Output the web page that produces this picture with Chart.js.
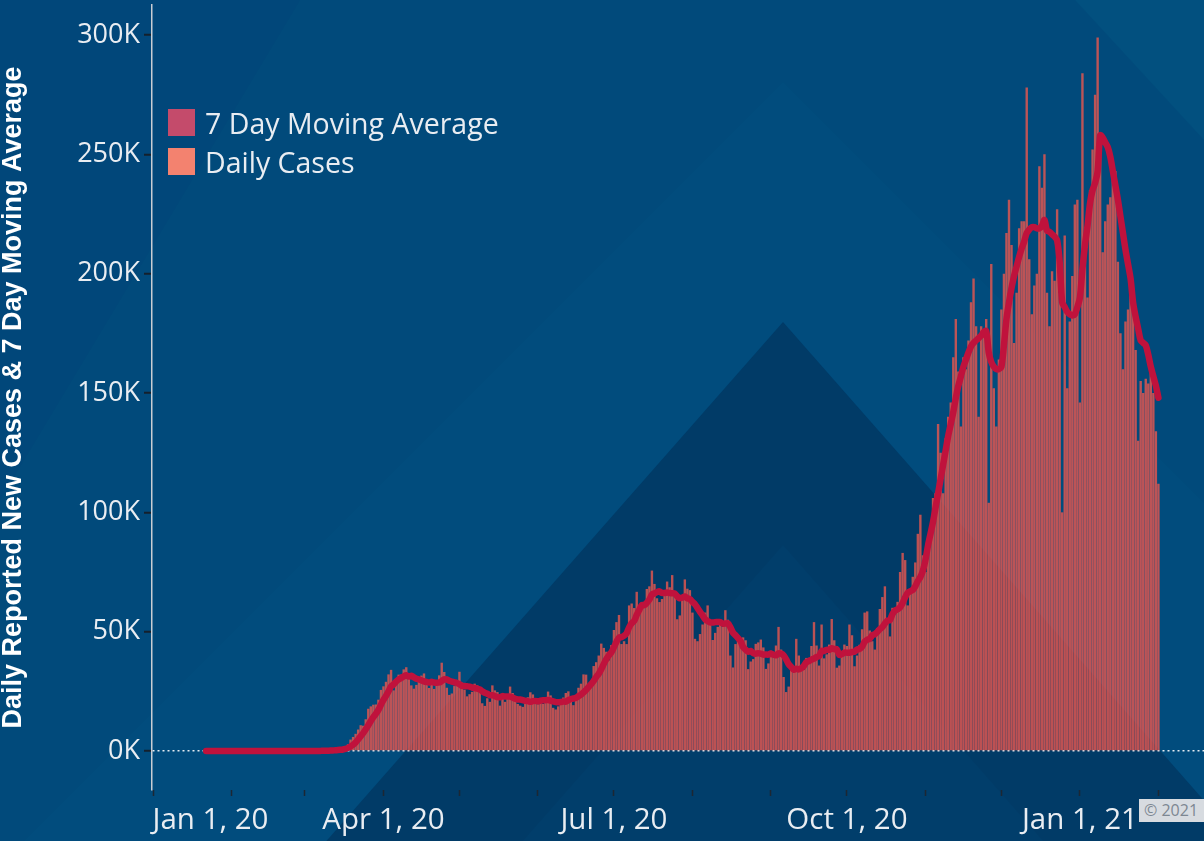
<!DOCTYPE html>
<html>
<head>
<meta charset="utf-8">
<script src="https://cdn.jsdelivr.net/npm/chart.js@4.4.1/dist/chart.umd.min.js"></script>
<style>
  html, body { margin:0; padding:0; width:1204px; height:841px; overflow:hidden; background:#014a7b; }
  #wrap { position:relative; width:1204px; height:841px; }
  canvas { position:absolute; left:0; top:0; }
  .lg { position:absolute; left:168px; height:30px; line-height:30px; display:flex; align-items:center; font-family:'Open Sans',sans-serif; font-size:28.5px; color:#e9edf2; white-space:nowrap; }
  .lg span.sw { display:inline-block; width:27px; height:27px; margin-right:10px; }
  #copy { position:absolute; left:1139px; top:799px; height:23px; padding:0 0 0 5px; background:#d7dbe0; color:#7d8792; font-family:'Open Sans',sans-serif; font-size:16px; line-height:23px; white-space:nowrap; width:80px; }
</style>
</head>
<body>
<div id="wrap">
<canvas id="c" width="1204" height="841"></canvas>
<div id="legend"></div>
<div id="copy">© 2021</div>
</div>
<script>
// ---- Data (thousands of cases), first value = Jan 22, 2020 ----
const startDay = 21; // days after Jan 1, 2020
const daily2020Jan = [0,0,0,0,0,0,0,0,0,0];
const daily2020Feb = [0,0,0,0,0,0,0,0,0,0,0,0,0,0,0,0,0,0,0,0,0,0,0,0,0,0,0,0,0];
const daily2020Mar = [0.01,0.02,0.02,0.03,0.07,0.06,0.1,0.1,0.14,0.3,0.4,0.5,0.6,0.7,0.9,1.2,1.8,2.8,4.8,5.9,7.2,9.0,10.8,10.6,13.3,17.7,18.7,19.4,19.5,21.5,25.6];
const daily2020Apr = [27.1,29.0,32.1,34.0,25.4,29.9,32.0,32.0,34.2,35.1,30.3,27.5,26.1,27.7,30.1,31.6,32.5,28.5,26.4,28.0,26.0,29.3,31.7,37.0,33.1,26.5,23.5,24.1,27.2,29.5];
const daily2020May = [33.2,28.6,25.7,22.9,23.8,24.8,28.2,27.5,25.6,20.0,18.9,22.1,20.6,27.5,25.4,24.7,19.0,22.0,20.6,21.8,27.0,24.3,22.2,19.7,19.0,18.5,19.9,22.5,24.6,23.7,20.3];
const daily2020Jun = [19.6,20.6,19.7,21.0,24.9,23.3,18.1,17.4,18.7,21.6,22.4,24.3,25.0,20.9,19.2,23.5,26.5,28.2,32.1,32.0,27.4,27.7,35.6,37.2,40.0,45.0,43.2,41.6,38.0,44.4];
const daily2020Jul = [50.7,54.0,57.0,44.8,46.0,44.8,61.0,61.8,59.9,66.7,60.0,59.8,60.8,67.9,69.0,75.6,70.0,64.0,62.4,63.7,65.3,71.0,68.6,73.7,65.6,55.2,56.8,64.7,71.9,68.0,67.4];
const daily2020Aug = [58,47,46,49,53,58,61,54,46.5,49.5,52,54.5,52,59,55,40,35,44.8,46.3,44,47.6,46.4,34.3,37.5,38.5,44.9,45.5,46.7,43.4,34.4,36.7];
const daily2020Sep = [42,41,44.2,52,42.5,31,24.7,27,34.2,35.5,47,40,34.5,34,39,39,44,54,44.2,35.8,53,38.8,40.5,44.6,55.3,46.4,34.9,35.8,40.9,44.6];
const daily2020Oct = [44,53,48.5,35.5,40,44.5,51,58,58.5,50.5,46,42.5,51.5,59.5,64.5,69,54.5,48,60,60,62.5,75,83,80,61,66,73,79,91,99,82];
const daily2020Nov = [75,86,93,106,108,137,125,108,131,140,146,165,181,159,136,165,160,172,188,198,178,140,178,176,181,104,204,152,136,164];
const daily2020Dec = [185,200,217,231,212,171,192,219,222,222,278,206,183,195,200,245,236,250,192,178,201,197,227,192,100,216,152,180,199,229,231];
const daily2021Jan = [146,284,210,190,235,252,275,299,255,209,222,229,232,240,243,205,175,160,180,185,193,190,168,130,155,150,156,154,165,150,134];
const daily2021Feb = [112];

const avg2020Jan = [0,0,0,0,0,0,0,0,0,0];
const avg2020Feb = [0,0,0,0,0,0,0,0,0,0,0,0,0,0,0,0,0,0,0,0,0,0,0,0,0,0,0,0,0];
const avg2020Mar = [0.01,0.01,0.02,0.02,0.03,0.04,0.05,0.06,0.08,0.12,0.17,0.23,0.3,0.39,0.5,0.65,0.9,1.3,1.9,2.6,3.6,4.8,6.2,7.5,9.1,10.8,12.6,14.2,15.6,17.2,19.4];
const avg2020Apr = [21.4,23.1,25.0,27.1,27.9,29.1,30.0,30.6,31.3,31.7,31.2,31.5,30.9,30.3,30.0,29.6,29.2,28.9,28.7,29.0,28.7,28.6,28.7,29.3,30.0,30.0,29.4,29.1,28.8,28.5];
const avg2020May = [28.0,27.3,27.2,27.1,27.0,26.6,26.4,26.1,25.8,25.0,24.4,24.0,23.4,23.4,23.0,22.6,22.5,23.0,22.8,22.8,22.8,22.4,21.9,21.6,21.6,21.3,21.0,20.9,20.6,20.9,21.0];
const avg2020Jun = [20.8,21.1,21.3,21.3,21.4,21.1,20.8,20.5,20.4,20.5,20.7,20.7,21.3,21.8,22.0,22.3,23.0,23.6,24.6,25.6,26.8,28.0,29.4,31.0,32.4,34.3,36.5,38.5,40.1,41.4];
const avg2020Jul = [43.5,45.8,47.5,47.7,48.3,49.3,51.8,53.5,54.5,57.0,59.1,61.1,61.1,62.1,63.4,65.6,66.0,66.6,66.9,66.2,66.2,66.4,66.2,66.1,66.0,64.8,64.0,64.3,64.7,64.0,63.6];
const avg2020Aug = [62.5,61.5,59.9,58.3,56.8,55.2,54.5,53.9,53.8,54.0,54.0,54.0,53.4,53.4,53.5,51.8,49.6,48.5,47.3,46.0,43.6,42.5,41.6,41.9,41.0,40.8,41.0,40.8,40.4,40.4,40.4];
const avg2020Sep = [40.9,40.3,40.1,40.9,40.8,40.1,38.4,36.4,35.2,34.1,34.5,34.2,34.7,35.7,37.2,37.7,38.3,38.7,39.4,39.7,41.9,41.9,42.4,42.4,43.1,42.7,42.6,40.3,40.6,41.2];
const avg2020Oct = [41.2,41.2,41.5,41.6,42.5,42.8,43.7,45.8,46.6,47.0,48.5,48.9,49.9,51.1,51.9,53.4,54.6,54.9,57.4,58.8,59.4,60.2,62.0,64.4,66.3,66.9,67.5,69.0,71.2,72.9,75.6];
const avg2020Nov = [80,86,91,96,102,108,114,120,126,132,137,142,148,153,157,161,164,167,169.5,171,172,173,174,175.5,176,167,163,161,160,160];
const avg2020Dec = [161,170,181,188,194,199,203,207,210.5,213.5,217,218.5,219.5,219.5,219,219,220,222.5,218,217.5,216.5,215.5,214,205,188,186,184,183,182.5,183,186];
const avg2021Jan = [190,202,212,220,229.5,235,238,243,258,257,255,253,249,243,237,231,224,217,210,204,198,188,182,177,172,171,170,166,161,157,153];
const avg2021Feb = [148];

const yTickValues = [0, 50, 100, 150, 200, 250, 300];
const monthTickDays = [0, 31, 60, 91, 121, 152, 182, 213, 244, 274, 305, 335, 366, 397];
const monthTickLabels = ['Jan 1, 20','','','Apr 1, 20','','','Jul 1, 20','','','Oct 1, 20','','','Jan 1, 21',''];
const seriesNames = ['7 Day Moving Average', 'Daily Cases'];
const seriesColors = ['#c44b6b', '#f3826f'];

const dailyCases = [].concat(daily2020Jan, daily2020Feb, daily2020Mar, daily2020Apr, daily2020May, daily2020Jun,
  daily2020Jul, daily2020Aug, daily2020Sep, daily2020Oct, daily2020Nov, daily2020Dec, daily2021Jan, daily2021Feb);
const movingAvg = [].concat(avg2020Jan, avg2020Feb, avg2020Mar, avg2020Apr, avg2020May, avg2020Jun,
  avg2020Jul, avg2020Aug, avg2020Sep, avg2020Oct, avg2020Nov, avg2020Dec, avg2021Jan, avg2021Feb);

const toPoints = arr => arr.map((v, i) => ({ x: startDay + i, y: v }));

// legend (HTML text)
const legendEl = document.getElementById('legend');
const legendTops = [107.5, 146.5];
seriesNames.forEach((n, i) => {
  const d = document.createElement('div');
  d.className = 'lg';
  d.style.top = legendTops[i] + 'px';
  d.innerHTML = '<span class="sw" style="background:' + seriesColors[i] + '"></span>';
  d.appendChild(document.createTextNode(n));
  legendEl.appendChild(d);
});

const bgPlugin = {
  id: 'bg',
  beforeDraw(chart) {
    const c = chart.ctx;
    const W = chart.width, H = chart.height;
    c.save();
    c.fillStyle = '#014a7b'; c.fillRect(0, 0, W, H);
    const poly = (pts, col) => {
      c.beginPath(); c.moveTo(pts[0][0], pts[0][1]);
      for (let k = 1; k < pts.length; k++) c.lineTo(pts[k][0], pts[k][1]);
      c.closePath(); c.fillStyle = col; c.fill();
    };
    poly([[0, 0], [300, 0], [0, 500]], '#01477a');
    poly([[1075, 0], [W, 0], [W, 140]], '#02507f');
    poly([[783, 82], [783 + 900, 82 + 900], [783 - 900, 82 + 900]], '#014c7d');
    poly([[783, 322], [783 + 600, 322 + 682], [783 - 600, 322 + 682]], '#013b67');
    poly([[783, 545], [783 + 400, 545 + 455], [783 - 400, 545 + 455]], '#013e6b');
    c.restore();
  }
};

const fontFam = "'Open Sans', sans-serif";
new Chart(document.getElementById('c'), {
  data: {
    datasets: [
      { type: 'line', label: seriesNames[0], data: toPoints(movingAvg), borderColor: '#c0123c', borderWidth: 6.5,
        pointRadius: 0, tension: 0.3, order: 0, borderCapStyle: 'round', borderJoinStyle: 'round' },
      { type: 'bar', label: seriesNames[1], data: toPoints(dailyCases), backgroundColor: 'rgba(224,86,80,0.84)',
        barPercentage: 0.95, categoryPercentage: 1, order: 1 }
    ]
  },
  options: {
    responsive: false, animation: false, devicePixelRatio: 1,
    layout: { padding: { top: 5, right: 0, bottom: 0, left: 0 } },
    plugins: { legend: { display: false }, tooltip: { enabled: false } },
    scales: {
      x: {
        type: 'linear', min: -0.4, max: 415, offset: false,
        afterBuildTicks: s => { s.ticks = monthTickDays.map(v => ({ value: v })); },
        afterFit: s => { s.height = 51; s.paddingLeft = 0; s.paddingRight = 0; },
        ticks: {
          autoSkip: false, maxRotation: 0, minRotation: 0, padding: 7, color: '#e9edf2',
          font: { family: fontFam, size: 29.5 },
          callback: v => {
            const i = monthTickDays.indexOf(v);
            if (i < 0) return '';
            return i === 0 ? '               ' + monthTickLabels[i] : monthTickLabels[i];
          }
        },
        grid: { offset: false, drawOnChartArea: false, tickLength: 6, tickColor: '#1d2733', tickWidth: 1.5 },
        border: { display: false }
      },
      y: {
        min: -16.34, max: 312.57,
        afterBuildTicks: s => { s.ticks = yTickValues.map(v => ({ value: v })); },
        afterFit: s => { s.width = 152; s.paddingTop = 0; s.paddingBottom = 0; },
        ticks: { padding: 4, color: '#e9edf2', font: { family: fontFam, size: 27 }, callback: v => v + 'K' },
        grid: {
          color: c => (c.tick && c.tick.value === 0) ? 'rgba(255,255,255,0.9)' : 'rgba(0,0,0,0)',
          lineWidth: 1.5, tickColor: '#14202d', tickLength: 8, tickWidth: 2
        },
        border: { display: true, color: '#c9cdd3', width: 1.5, dash: [2, 3] },
        title: { display: true, text: 'Daily Reported New Cases & 7 Day Moving Average', color: '#ffffff',
          font: { family: "'Liberation Sans', Arial, sans-serif", size: 27, weight: 'bold', lineHeight: 1 }, padding: { top: 0, bottom: 0 } }
      }
    }
  },
  plugins: [bgPlugin]
});
</script>
</body>
</html>
